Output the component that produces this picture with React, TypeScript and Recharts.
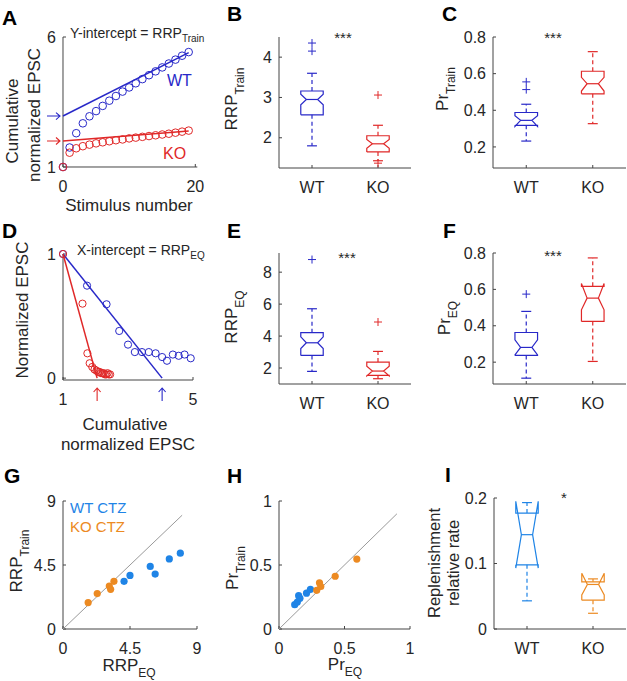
import React from 'react';
import { ComposedChart, Scatter, XAxis, YAxis, ReferenceDot } from 'recharts';

const FONT = '"Liberation Sans", Arial, Helvetica, sans-serif';
const INK = '#262626';
const AXIS = '#444444';
const BLUE = '#2828c8';
const RED = '#e02828';
const CTZ_BLUE = '#1f84e6';
const CTZ_ORANGE = '#ec8a22';
const DIAG = '#9a9a9a';

// A: cumulative normalized EPSC vs stimulus number
const stimulusNumber = [0, 1, 2, 3, 4, 5, 6, 7, 8, 9, 10, 11, 12, 13, 14, 15, 16, 17, 18, 19];
const cumEpscWT = [1, 1.75, 2.3, 2.68, 2.95, 3.15, 3.35, 3.55, 3.73, 3.9, 4.06, 4.22, 4.38, 4.53, 4.68, 4.83, 4.98, 5.13, 5.28, 5.42];
const cumEpscKO = [1, 1.55, 1.72, 1.8, 1.86, 1.91, 1.95, 1.99, 2.03, 2.06, 2.1, 2.13, 2.16, 2.19, 2.22, 2.25, 2.28, 2.32, 2.36, 2.4];
const fitStim = [0, 19];
const fitTrainWT = [2.96, 5.4];
const fitTrainKO = [2.0, 2.38];

// D: normalized EPSC vs cumulative normalized EPSC
const cumEqWT = [1, 1.74, 2.34, 2.73, 3.0, 3.21, 3.43, 3.64, 3.85, 4.05, 4.2, 4.38, 4.56, 4.74, 4.93];
const normEqWT = [1, 0.745, 0.595, 0.38, 0.27, 0.21, 0.21, 0.21, 0.2, 0.17, 0.14, 0.19, 0.18, 0.19, 0.16];
const cumEqKO = [1, 1.6, 1.75, 1.82, 1.9, 1.97, 2.03, 2.08, 2.13, 2.17, 2.21, 2.25, 2.29, 2.33, 2.37, 2.41, 2.45];
const normEqKO = [1, 0.6, 0.2, 0.12, 0.09, 0.07, 0.06, 0.05, 0.05, 0.04, 0.04, 0.04, 0.03, 0.03, 0.04, 0.03, 0.03];
const fitEqY = [1, 0];
const fitEqWT = [1, 4.05];
const fitEqKO = [1, 2.05];

// box stats: whisker lo, q1, notch lo, median, notch hi, q3, whisker hi
const groups = ['WT', 'KO'];
const rrpTrainWT = [1.8, 2.57, 2.82, 2.95, 3.08, 3.16, 3.6];
const rrpTrainKO = [1.43, 1.65, 1.74, 1.85, 1.96, 2.05, 2.31];
const rrpTrainOutWT = [4.15, 4.35];
const rrpTrainOutKO = [1.37, 3.06];
const prTrainWT = [0.232, 0.318, 0.312, 0.345, 0.37, 0.388, 0.433];
const prTrainKO = [0.327, 0.49, 0.505, 0.545, 0.58, 0.613, 0.72];
const prTrainOutWT = [0.513, 0.555];
const rrpEqWT = [1.79, 2.79, 3.22, 3.58, 3.95, 4.21, 5.71];
const rrpEqKO = [1.33, 1.54, 1.5, 1.81, 2.12, 2.375, 3.04];
const rrpEqOutWT = [8.79];
const rrpEqOutKO = [4.88];
const prEqWT = [0.112, 0.237, 0.24, 0.281, 0.323, 0.363, 0.479];
const prEqKO = [0.204, 0.424, 0.488, 0.552, 0.632, 0.617, 0.773];
const prEqOutWT = [0.574];
const replWT = [0.043, 0.098, 0.093, 0.144, 0.195, 0.177, 0.193];
const replKO = [0.024, 0.044, 0.052, 0.068, 0.085, 0.072, 0.0765];

// G, H: CTZ cells
const rrpEqCtzWT = [4.1, 4.5, 5.86, 6.19, 7.14, 7.88];
const rrpTrainCtzWT = [3.35, 3.77, 4.4, 3.86, 4.93, 5.33];
const rrpEqCtzKO = [1.69, 2.3, 3.11, 3.2, 3.42];
const rrpTrainCtzKO = [1.86, 2.49, 3.02, 2.79, 3.35];
const prEqCtzWT = [0.12, 0.14, 0.15, 0.16, 0.21, 0.24];
const prTrainCtzWT = [0.19, 0.21, 0.26, 0.24, 0.28, 0.31];
const prEqCtzKO = [0.288, 0.309, 0.319, 0.429, 0.594];
const prTrainCtzKO = [0.302, 0.361, 0.332, 0.412, 0.546];
const diagRRP = [0, 8];
const diagPr = [0, 0.9];

type Pt = { x: number; y: number };
const zip = (xs: number[], ys: number[]): Pt[] => xs.map((x, i) => ({ x, y: ys[i] }));

const HALF = 0.17;
const NOTCH = 0.085;
const CAP = 0.075;

const hidden = () => <g />;
const ring = (color: string, r: number) => (p: any) => (
  <circle cx={p.cx} cy={p.cy} r={r} fill="none" stroke={color} strokeWidth={1} />
);
const dot = (color: string) => (p: any) => <circle cx={p.cx} cy={p.cy} r={3.6} fill={color} />;
const plus = (color: string) => (p: any) => (
  <path d={`M${p.cx - 4},${p.cy}h8M${p.cx},${p.cy - 4}v8`} stroke={color} strokeWidth={1} fill="none" />
);

const path = (key: string, data: Pt[], color: string, width = 1.2, dash?: string) => (
  <Scatter
    key={key}
    data={data}
    shape={hidden}
    line={{ stroke: color, strokeWidth: width, strokeDasharray: dash }}
    isAnimationActive={false}
  />
);

const marks = (key: string, data: Pt[], shape: any) => (
  <Scatter key={key} data={data} shape={shape} isAnimationActive={false} />
);

function box(key: string, c: number, s: number[], out: number[], color: string) {
  const [lo, q1, nLo, med, nHi, q3, hi] = s;
  const L = c - HALF;
  const R = c + HALF;
  const l = c - NOTCH;
  const r = c + NOTCH;
  const outline = [
    { x: L, y: q1 }, { x: L, y: nLo }, { x: l, y: med }, { x: L, y: nHi }, { x: L, y: q3 },
    { x: R, y: q3 }, { x: R, y: nHi }, { x: r, y: med }, { x: R, y: nLo }, { x: R, y: q1 }, { x: L, y: q1 },
  ];
  return [
    path(key + 'wu', [{ x: c, y: q3 }, { x: c, y: hi }], color, 1.2, '4 3'),
    path(key + 'wl', [{ x: c, y: q1 }, { x: c, y: lo }], color, 1.2, '4 3'),
    path(key + 'cu', [{ x: c - CAP, y: hi }, { x: c + CAP, y: hi }], color),
    path(key + 'cl', [{ x: c - CAP, y: lo }, { x: c + CAP, y: lo }], color),
    path(key + 'bx', outline, color),
    path(key + 'md', [{ x: l, y: med }, { x: r, y: med }], color),
    marks(key + 'ot', out.map((y) => ({ x: c, y })), plus(color)),
  ];
}

type Rect = { x0: number; y0: number; x1: number; y1: number };
const PAD = { l: 48, r: 10, t: 12, b: 34 };

function Frame(props: {
  rect: Rect;
  xDomain: number[];
  yDomain: number[];
  xTicks: number[];
  yTicks: number[];
  xFmt?: (v: number) => string;
  children: React.ReactNode;
}) {
  const { rect, xDomain, yDomain, xTicks, yTicks, xFmt, children } = props;
  // axes take 1px each (a zero-sized axis is not drawn)
  const width = rect.x1 - rect.x0 + PAD.l + PAD.r + 1;
  const height = rect.y1 - rect.y0 + PAD.t + PAD.b + 1;
  const tick = { fill: INK, fontSize: 16 };
  return (
    <div style={{ position: 'absolute', left: rect.x0 - PAD.l - 1, top: rect.y0 - PAD.t }}>
      <ComposedChart width={width} height={height} margin={{ top: PAD.t, right: PAD.r, bottom: PAD.b, left: PAD.l }}>
        <XAxis
          type="number"
          dataKey="x"
          domain={xDomain}
          ticks={xTicks}
          tickFormatter={xFmt}
          interval={0}
          height={1}
          tickSize={-3}
          tickMargin={17}
          stroke={AXIS}
          tick={tick}
        />
        <YAxis
          type="number"
          dataKey="y"
          domain={yDomain}
          ticks={yTicks}
          interval={0}
          width={1}
          tickSize={-3}
          tickMargin={10}
          stroke={AXIS}
          tick={tick}
        />
        {children}
      </ComposedChart>
    </div>
  );
}

const groupFmt = (v: number) => groups[v - 1] ?? '';

const arrowLeft = (color: string) => (p: any) => (
  <path
    d={`M${p.cx - 16},${p.cy}H${p.cx - 3}M${p.cx - 7},${p.cy - 3.5}L${p.cx - 3},${p.cy}L${p.cx - 7},${p.cy + 3.5}`}
    stroke={color}
    strokeWidth={1.1}
    fill="none"
  />
);
const arrowUp = (color: string) => (p: any) => (
  <path
    d={`M${p.cx},${p.cy + 21}V${p.cy + 8}M${p.cx - 3.5},${p.cy + 12}L${p.cx},${p.cy + 8}L${p.cx + 3.5},${p.cy + 12}`}
    stroke={color}
    strokeWidth={1.1}
    fill="none"
  />
);

function Sub(props: {
  x: number;
  y: number;
  main: string;
  sub?: string;
  size?: number;
  subSize?: number;
  dy?: number;
  rotate?: boolean;
  anchor?: 'start' | 'middle' | 'end';
  color?: string;
}) {
  const { x, y, main, sub, size = 17, subSize = 12, dy = 7, rotate, anchor = 'middle', color = INK } = props;
  return (
    <text
      x={rotate ? 0 : x}
      y={rotate ? 0 : y}
      transform={rotate ? `translate(${x},${y}) rotate(-90)` : undefined}
      textAnchor={anchor}
      fontSize={size}
      fill={color}
    >
      {main}
      {sub ? (
        <tspan dy={dy} fontSize={subSize}>
          {sub}
        </tspan>
      ) : null}
    </text>
  );
}

export default function App() {
  return (
    <div
      style={{
        position: 'absolute',
        left: 0,
        top: 0,
        width: 627,
        height: 681,
        overflow: 'hidden',
        background: '#fff',
        fontFamily: FONT,
      }}
    >
      {/* A */}
      <Frame rect={{ x0: 62.7, y0: 37, x1: 197, y1: 167 }} xDomain={[0, 20.3]} yDomain={[1, 6]} xTicks={[0, 20]} yTicks={[1, 6]}>
        {path('aFitWT', zip(fitStim, fitTrainWT), BLUE, 1.5)}
        {marks('aWT', zip(stimulusNumber, cumEpscWT), ring(BLUE, 3.8))}
        {path('aFitKO', zip(fitStim, fitTrainKO), RED, 1.5)}
        {marks('aKO', zip(stimulusNumber, cumEpscKO), ring(RED, 3.8))}
        <ReferenceDot x={0} y={fitTrainWT[0]} ifOverflow="visible" shape={arrowLeft(BLUE)} />
        <ReferenceDot x={0} y={fitTrainKO[0]} ifOverflow="visible" shape={arrowLeft(RED)} />
      </Frame>

      {/* B */}
      <Frame rect={{ x0: 279, y0: 37, x1: 411, y1: 168 }} xDomain={[0.5, 2.5]} yDomain={[1.25, 4.5]} xTicks={[1, 2]} yTicks={[2, 3, 4]} xFmt={groupFmt}>
        {box('bWT', 1, rrpTrainWT, rrpTrainOutWT, BLUE)}
        {box('bKO', 2, rrpTrainKO, rrpTrainOutKO, RED)}
      </Frame>

      {/* C */}
      <Frame rect={{ x0: 493, y0: 37, x1: 626, y1: 168 }} xDomain={[0.5, 2.5]} yDomain={[0.085, 0.8]} xTicks={[1, 2]} yTicks={[0.2, 0.4, 0.6, 0.8]} xFmt={groupFmt}>
        {box('cWT', 1, prTrainWT, prTrainOutWT, BLUE)}
        {box('cKO', 2, prTrainKO, [], RED)}
      </Frame>

      {/* D */}
      <Frame rect={{ x0: 63, y0: 254, x1: 193, y1: 380 }} xDomain={[1, 5]} yDomain={[-0.015, 1]} xTicks={[1, 5]} yTicks={[0, 1]}>
        {path('dFitWT', zip(fitEqWT, fitEqY), BLUE, 1.5)}
        {marks('dWT', zip(cumEqWT, normEqWT), ring(BLUE, 3.6))}
        {path('dFitKO', zip(fitEqKO, fitEqY), RED, 1.5)}
        {marks('dKO', zip(cumEqKO, normEqKO), ring(RED, 3.6))}
        <ReferenceDot x={fitEqWT[1]} y={-0.015} ifOverflow="visible" shape={arrowUp(BLUE)} />
        <ReferenceDot x={fitEqKO[1]} y={-0.015} ifOverflow="visible" shape={arrowUp(RED)} />
      </Frame>

      {/* E */}
      <Frame rect={{ x0: 279, y0: 253, x1: 411, y1: 384 }} xDomain={[0.5, 2.5]} yDomain={[1, 9.2]} xTicks={[1, 2]} yTicks={[2, 4, 6, 8]} xFmt={groupFmt}>
        {box('eWT', 1, rrpEqWT, rrpEqOutWT, BLUE)}
        {box('eKO', 2, rrpEqKO, rrpEqOutKO, RED)}
      </Frame>

      {/* F */}
      <Frame rect={{ x0: 493, y0: 253, x1: 626, y1: 384 }} xDomain={[0.5, 2.5]} yDomain={[0.08, 0.8]} xTicks={[1, 2]} yTicks={[0.2, 0.4, 0.6, 0.8]} xFmt={groupFmt}>
        {box('fWT', 1, prEqWT, prEqOutWT, BLUE)}
        {box('fKO', 2, prEqKO, [], RED)}
      </Frame>

      {/* G */}
      <Frame rect={{ x0: 63, y0: 501, x1: 197, y1: 629 }} xDomain={[0, 9]} yDomain={[0, 9]} xTicks={[0, 4.5, 9]} yTicks={[0, 4.5, 9]}>
        {path('gDiag', zip(diagRRP, diagRRP), DIAG, 1)}
        {marks('gWT', zip(rrpEqCtzWT, rrpTrainCtzWT), dot(CTZ_BLUE))}
        {marks('gKO', zip(rrpEqCtzKO, rrpTrainCtzKO), dot(CTZ_ORANGE))}
      </Frame>

      {/* H */}
      <Frame rect={{ x0: 279, y0: 501, x1: 410, y1: 629 }} xDomain={[0, 1]} yDomain={[0, 1]} xTicks={[0, 0.5, 1]} yTicks={[0, 0.5, 1]}>
        {path('hDiag', zip(diagPr, diagPr), DIAG, 1)}
        {marks('hWT', zip(prEqCtzWT, prTrainCtzWT), dot(CTZ_BLUE))}
        {marks('hKO', zip(prEqCtzKO, prTrainCtzKO), dot(CTZ_ORANGE))}
      </Frame>

      {/* I */}
      <Frame rect={{ x0: 494, y0: 498, x1: 626, y1: 629 }} xDomain={[0.5, 2.5]} yDomain={[0, 0.2]} xTicks={[1, 2]} yTicks={[0, 0.1, 0.2]} xFmt={groupFmt}>
        {box('iWT', 1, replWT, [], CTZ_BLUE)}
        {box('iKO', 2, replKO, [], CTZ_ORANGE)}
      </Frame>

      <svg width={627} height={681} style={{ position: 'absolute', left: 0, top: 0, pointerEvents: 'none' }}>
        {/* panel letters */}
        <g fontSize={21} fontWeight="bold" fill="#000">
          <text x={2} y={25}>A</text>
          <text x={227} y={21}>B</text>
          <text x={442} y={21}>C</text>
          <text x={2} y={238}>D</text>
          <text x={227} y={238}>E</text>
          <text x={443} y={238}>F</text>
          <text x={4} y={483}>G</text>
          <text x={227} y={483}>H</text>
          <text x={445} y={482}>I</text>
        </g>

        {/* A */}
        <Sub x={70} y={38} main="Y-intercept = RRP" sub="Train" size={14} subSize={10} dy={4} anchor="start" />
        <Sub x={18} y={121} main="Cumulative" rotate />
        <Sub x={39.5} y={115} main="normalized EPSC" rotate />
        <Sub x={129} y={211} main="Stimulus number" />
        <Sub x={167} y={86} main="WT" size={16} anchor="start" color={BLUE} />
        <Sub x={163} y={159} main="KO" size={16} anchor="start" color={RED} />

        {/* B, C */}
        <Sub x={237} y={99} main="RRP" sub="Train" rotate />
        <Sub x={448} y={89} main="Pr" sub="Train" rotate />
        <Sub x={343} y={43} main="***" size={15} />
        <Sub x={553} y={43} main="***" size={15} />

        {/* D */}
        <Sub x={77} y={255} main="X-intercept = RRP" sub="EQ" size={14} subSize={10} dy={4} anchor="start" />
        <Sub x={28} y={310} main="Normalized EPSC" rotate />
        <Sub x={125} y={430} main="Cumulative" />
        <Sub x={128} y={450} main="normalized EPSC" />

        {/* E, F */}
        <Sub x={237} y={317} main="RRP" sub="EQ" rotate />
        <Sub x={450} y={318} main="Pr" sub="EQ" rotate />
        <Sub x={347} y={263} main="***" size={15} />
        <Sub x={553} y={261} main="***" size={15} />

        {/* G */}
        <Sub x={70} y={513} main="WT CTZ" size={15} anchor="start" color={CTZ_BLUE} />
        <Sub x={70} y={532} main="KO CTZ" size={15} anchor="start" color={CTZ_ORANGE} />
        <Sub x={22} y={561} main="RRP" sub="Train" rotate />
        <Sub x={129} y={671} main="RRP" sub="EQ" dy={6} />

        {/* H */}
        <Sub x={238} y={568} main="Pr" sub="Train" rotate />
        <Sub x={345} y={670} main="Pr" sub="EQ" dy={6} />

        {/* I */}
        <Sub x={440} y={563} main="Replenishment" size={16.5} rotate />
        <Sub x={459} y={563} main="relative rate" size={16.5} rotate />
        <Sub x={564} y={503} main="*" size={15} />
      </svg>
    </div>
  );
}
